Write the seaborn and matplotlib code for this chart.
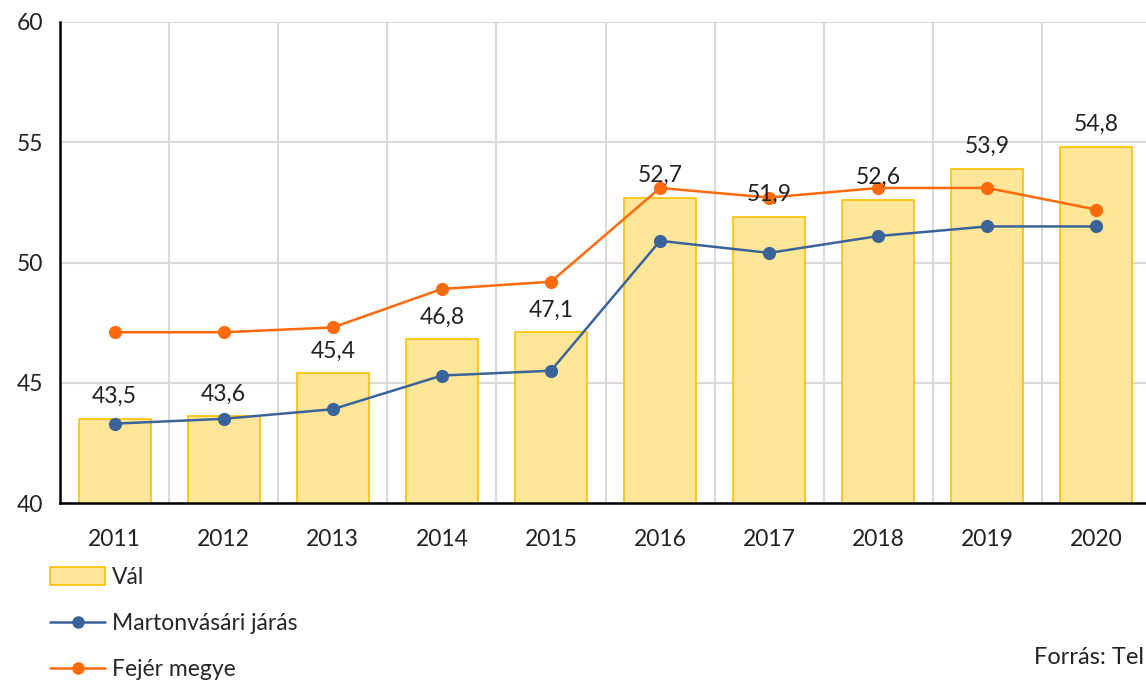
import matplotlib
matplotlib.use("Agg")
import matplotlib.pyplot as plt
import seaborn as sns
import pandas as pd
from matplotlib.patches import Patch
from matplotlib.lines import Line2D

years = ["2011", "2012", "2013", "2014", "2015", "2016", "2017", "2018", "2019", "2020"]
val = [43.5, 43.6, 45.4, 46.8, 47.1, 52.7, 51.9, 52.6, 53.9, 54.8]
martonvasar = [43.3, 43.5, 43.9, 45.3, 45.5, 50.9, 50.4, 51.1, 51.5, 51.5]
fejer = [47.1, 47.1, 47.3, 48.9, 49.2, 53.1, 52.7, 53.1, 53.1, 52.2]

df = pd.DataFrame({"ev": years, "Vál": val,
                   "Martonvásári járás": martonvasar, "Fejér megye": fejer})

bar_fill = "#FFE699"
bar_edge = "#FFC000"
blue = "#3A6399"
orange = "#FF6A0D"

sns.set_style("white")
plt.rcParams["font.family"] = ["Lato", "DejaVu Sans"]

fig = plt.figure(figsize=(11.46, 6.82), dpi=100)
ax = fig.add_axes([60 / 1146, 179 / 682, 1091 / 1146, 481 / 682])

sns.barplot(data=df, x="ev", y="Vál", color=bar_fill, edgecolor=bar_edge,
            linewidth=1.2, width=0.66, saturation=1, ax=ax, zorder=2)
sns.lineplot(data=df, x="ev", y="Martonvásári járás", color=blue, marker="o",
             markersize=9.5, markeredgewidth=0, linewidth=1.8, ax=ax, zorder=3)
sns.lineplot(data=df, x="ev", y="Fejér megye", color=orange, marker="o",
             markersize=9.5, markeredgewidth=0, linewidth=1.8, ax=ax, zorder=3)

for i, v in enumerate(val):
    ax.annotate(f"{v:.1f}".replace(".", ","), (i, v), xytext=(0, 16),
                textcoords="offset points", ha="center", va="center",
                fontsize=16.5, color="#222222", zorder=4)

ax.set_ylim(40, 60)
ax.set_yticks([40, 45, 50, 55, 60])
ax.set_xlim(-0.5, len(years) - 0.5)
ax.set_xticks([i + 0.5 for i in range(len(years) - 1)], minor=True)
ax.grid(axis="y", color="#D9D9D9", linewidth=1.5, zorder=0)
ax.grid(axis="x", which="minor", color="#D9D9D9", linewidth=1.5, zorder=0)
ax.set_axisbelow(True)
ax.set_xlabel("")
ax.set_ylabel("")
ax.tick_params(axis="both", which="both", length=0, labelsize=16.5, colors="#222222")
ax.tick_params(axis="x", pad=19)
ax.tick_params(axis="y", pad=12)
for s in ["top", "right"]:
    ax.spines[s].set_visible(False)
ax.spines["left"].set_color("black")
ax.spines["left"].set_linewidth(1.8)
ax.spines["bottom"].set_color("black")
ax.spines["bottom"].set_linewidth(1.8)

handles = [
    Patch(facecolor=bar_fill, edgecolor=bar_edge, linewidth=1.2),
    Line2D([], [], color=blue, marker="o", markersize=9, markeredgewidth=0, linewidth=1.8),
    Line2D([], [], color=orange, marker="o", markersize=9, markeredgewidth=0, linewidth=1.8),
]
labels = ["Vál", "Martonvásári járás", "Fejér megye"]
fig.legend(handles, labels, loc="upper left", bbox_to_anchor=(50 / 1146, 1 - 567 / 682),
           frameon=False, fontsize=16.5, handlelength=2.4, handleheight=0.8,
           handletextpad=0.3, labelspacing=1.1, borderpad=0, borderaxespad=0)

fig.text(1144 / 1146, 1 - 657 / 682, "Forrás: Tel", fontsize=17, color="#222222",
         ha="right", va="center")

fig.savefig("out.png", dpi=100)
